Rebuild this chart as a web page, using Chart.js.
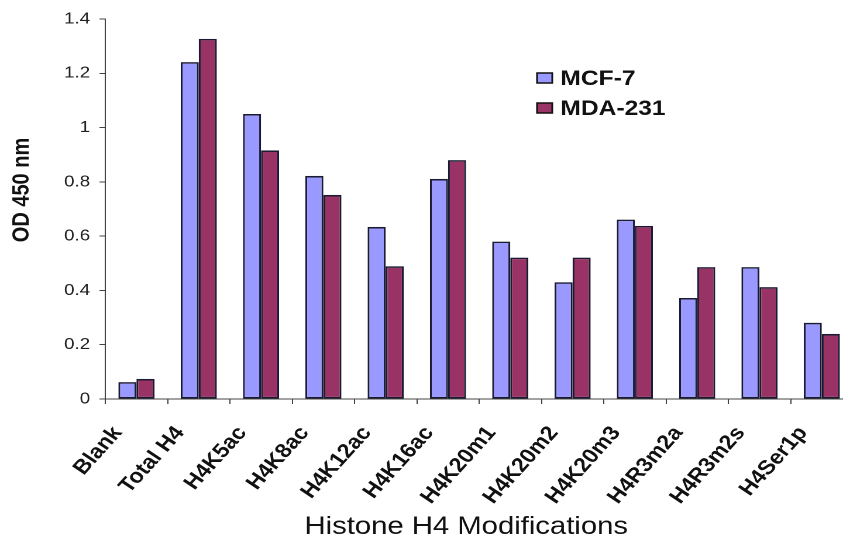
<!DOCTYPE html>
<html>
<head>
<meta charset="utf-8">
<script src="https://cdn.jsdelivr.net/npm/chart.js@4.4.1/dist/chart.umd.min.js"></script>
<style>
  html, body { margin: 0; padding: 0; background: #fff; }
  #marco { width: 843px; height: 548px; overflow: hidden; position: relative; }
  /* la figura original esta estirada a lo ancho */
  #lienzo { width: 760px; height: 548px; transform: scaleX(1.17); transform-origin: 0 0; }
</style>
</head>
<body>
<div id="marco"><div id="lienzo"><canvas id="grafico"></canvas></div></div>
<script>
// DATOS
const categorias = ["Blank", "Total H4", "H4K5ac", "H4K8ac", "H4K12ac", "H4K16ac", "H4K20m1", "H4K20m2", "H4K20m3", "H4R3m2a", "H4R3m2s", "H4Ser1p"];
const mcf7 = [0.062, 1.241, 1.050, 0.822, 0.634, 0.811, 0.580, 0.430, 0.661, 0.372, 0.486, 0.281];
const mda231 = [0.074, 1.327, 0.916, 0.752, 0.489, 0.880, 0.521, 0.521, 0.638, 0.486, 0.412, 0.240];
const nombresSeries = ["MCF-7", "MDA-231"];
const coloresSeries = ["#9999ff", "#993366"];
const ejeY = { min: 0, max: 1.4, paso: 0.2 };
const tituloX = "Histone H4 Modifications";
const tituloY = "OD 450 nm";

const fuente = "Arial, 'Liberation Sans', sans-serif";

// leyenda dentro del area y titulos de los ejes
const extras = {
  id: "extras",
  afterDraw(chart) {
    const ctx = chart.ctx;
    const area = chart.chartArea;
    ctx.save();
    chart.data.datasets.forEach((ds, i) => {
      const y = 78 + i * 30;
      ctx.fillStyle = ds.backgroundColor;
      ctx.strokeStyle = "#111";
      ctx.lineWidth = 1.5;
      ctx.fillRect(459, y - 5, 13, 10);
      ctx.strokeRect(459, y - 5, 13, 10);
      ctx.fillStyle = "#111";
      ctx.font = "bold 21px " + fuente;
      ctx.textBaseline = "middle";
      ctx.textAlign = "left";
      ctx.fillText(ds.label, 479, y + 1);
    });

    ctx.fillStyle = "#111";
    ctx.textAlign = "center";
    ctx.textBaseline = "middle";
    ctx.font = "25px " + fuente;
    ctx.fillText(tituloX, (area.left + area.right) / 2 - 11, 527);

    ctx.translate(19, (area.top + area.bottom) / 2 - 19);
    ctx.rotate(-Math.PI / 2);
    ctx.font = "bold 20px " + fuente;
    ctx.fillText(tituloY, 0, 0);
    ctx.restore();
  }
};

const grafica = new Chart(document.getElementById("grafico").getContext("2d"), {
  type: "bar",
  data: {
    labels: categorias,
    datasets: [
      { label: nombresSeries[0], data: mcf7, backgroundColor: coloresSeries[0] },
      { label: nombresSeries[1], data: mda231, backgroundColor: coloresSeries[1] }
    ].map(d => ({ ...d, borderColor: "#1a1a33", borderWidth: 1.6, borderSkipped: false, categoryPercentage: 0.58, barPercentage: 1 }))
  },
  options: {
    responsive: true,
    maintainAspectRatio: false,
    animation: false,
    devicePixelRatio: 2,
    layout: { padding: { top: 19, right: 31, left: 0, bottom: 0 } },
    plugins: { legend: { display: false }, tooltip: { enabled: false } },
    scales: {
      x: {
        afterFit: s => { s.height = 149; },
        grid: { display: true, drawOnChartArea: false, offset: true, tickLength: 5, color: "#444", lineWidth: 1 },
        border: { color: "#444", width: 1 },
        ticks: {
          autoSkip: false, minRotation: 52, maxRotation: 52, padding: 18, labelOffset: -16,
          color: "#111", font: { family: fuente, size: 20, weight: "bold" }
        }
      },
      y: {
        min: ejeY.min, max: ejeY.max,
        afterFit: s => { s.width = 90; },
        grid: { display: true, drawOnChartArea: false, tickLength: 5, color: "#444" },
        border: { color: "#444", width: 1 },
        ticks: {
          stepSize: ejeY.paso, padding: 8, color: "#222", font: { family: fuente, size: 16 },
          callback: v => String(Math.round(v * 10) / 10)
        }
      }
    }
  },
  plugins: [extras]
});
</script>
</body>
</html>
